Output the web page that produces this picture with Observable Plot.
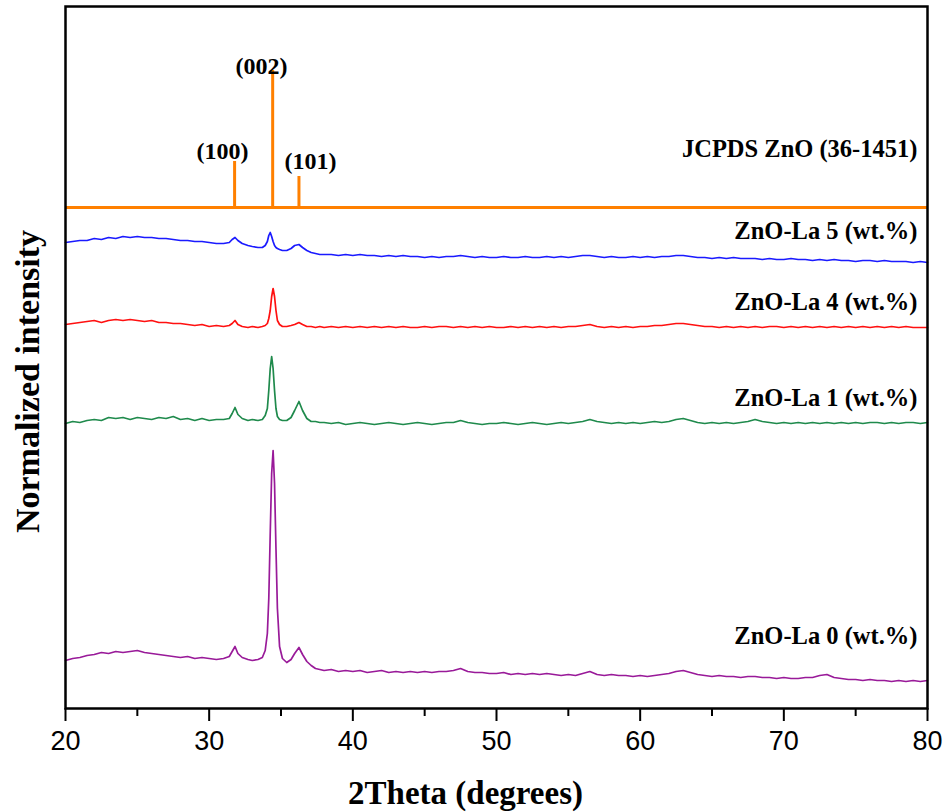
<!DOCTYPE html>
<html><head><meta charset="utf-8">
<script src="https://cdn.jsdelivr.net/npm/d3@7"></script>
<script src="https://cdn.jsdelivr.net/npm/@observablehq/plot@0.6"></script>
<style>body{margin:0;background:#fff}</style>
</head><body><div id="chart"></div>
<script>
// 2Theta sampling (degrees)
const xA = [20,20.5,21,21.5,22,22.5,23,23.5,24,24.5, 25,25.5,26,26.5,27,27.5,28,28.5,29,29.5, 30,30.5];
const xB = [31,31.4,31.6,31.8,32,32.3,32.7,33,33.4,33.7, 33.9,34.05,34.15,34.25,34.35,34.45,34.55,34.65,34.75,34.9, 35.1,35.4,35.7,35.95,36.25,36.5,36.8,37.1,37.4,37.7];
const xC = [38,38.5,39,39.5,40,40.5,41,41.5,42,42.5, 43,43.5,44,44.5,45,45.5,46,46.5,47,47.5,
  48,48.5,49,49.5,50,50.5,51,51.5,52,52.5, 53,53.5,54,54.5,55,55.5,56,56.5,57,57.5,
  58,58.5,59,59.5,60,60.5,61,61.5,62,62.5, 63,63.5,64,64.5,65,65.5,66,66.5,67,67.5,
  68,68.5,69,69.5,70,70.5,71,71.5,72,72.5, 73,73.5,74,74.5,75,75.5,76,76.5,77,77.5,
  78,78.5,79,79.5,80];
const twoTheta = [...xA, ...xB, ...xC];

// Stacked normalized intensities (a.u.)
const la0 = [
  48,50,51,53,54,56,55,57,56,57, 58,56,55,54,53,52,51,52,50,51, 50,49,
  50,52,57,62,55,51,49,48,49,51, 58,75,110,175,235,258,225,160,100,62, 50,46,49,55,61,54,47,43,40,39,
  38,39,37,38,37,38,36,37,38,36, 37,36,37,36,37,36,37,37,38,40,
  37,36,36,35,35,36,34,35,34,35, 34,35,34,33,34,33,35,37,34,33,
  34,33,33,32,33,32,33,34,35,37, 38,36,34,33,32,33,32,32,31,32,
  32,31,31,30,31,30,30,31,31,33, 34,31,30,29,29,28,29,28,28,27,
  28,27,28,27,28];
const la1 = [
  285,287,286,288,289,288,291,290,291,289, 291,290,289,291,290,292,289,290,288,290, 288,289,
  289,290,295,301,294,290,288,289,288,289, 293,300,318,340,352,340,318,300,292,289, 288,288,291,298,307,298,290,287,287,286,
  286,285,286,284,285,286,285,284,285,286, 285,284,285,286,285,284,285,286,286,288,
  286,285,284,285,285,286,285,284,285,286, 285,284,285,286,285,286,287,289,287,286,
  285,286,285,286,285,286,287,286,287,289, 290,288,286,285,286,285,286,285,286,287,
  289,287,286,285,286,285,286,285,286,285, 286,285,286,285,286,285,286,286,285,286,
  285,286,286,285,286];
const la4 = [
  384,385,386,387,388,386,388,389,388,389, 388,387,388,386,386,385,385,384,383,384, 382,383,
  382,383,385,388,384,382,381,382,381,382, 383,385,390,398,412,420,412,398,388,384, 382,382,383,384,386,384,382,382,381,382,
  381,382,381,382,381,382,381,382,381,382, 381,382,381,381,382,381,382,382,381,382,
  381,382,381,382,381,381,382,381,382,381, 382,381,382,381,382,382,383,384,382,381,
  382,381,382,381,382,382,383,383,384,385, 385,384,383,382,382,381,382,381,382,381,
  382,381,382,382,381,382,381,382,381,382, 381,382,381,382,381,382,381,382,381,382,
  381,382,381,381,381];
const la5 = [
  466,467,468,468,470,469,471,470,472,471, 472,471,471,470,470,469,468,468,467,467, 466,465,
  465,466,469,471,468,465,463,462,461,461, 463,467,473,476,472,467,463,461,460,459, 458,458,460,463,464,461,458,456,455,454,
  454,454,453,454,453,454,453,453,452,453, 452,453,452,452,451,452,451,452,452,453,
  452,451,452,451,451,452,451,451,452,451, 451,452,451,452,451,452,453,453,452,451,
  452,451,451,452,451,452,451,452,452,453, 453,452,451,451,450,451,450,451,450,450,
  450,449,450,449,449,450,449,449,448,449, 448,449,448,448,447,448,448,447,448,447,
  447,447,446,447,446];

const seriesNames = ["ZnO-La 0 (wt.%)", "ZnO-La 1 (wt.%)", "ZnO-La 4 (wt.%)", "ZnO-La 5 (wt.%)"];
const seriesValues = [la0, la1, la4, la5];
const seriesColors = ["#991a99", "#1f8a4c", "#ff1010", "#1a1aff"];
const seriesLabelY = [72, 310, 406, 477];

// Reference pattern JCPDS ZnO (36-1451)
const refName = "JCPDS ZnO (36-1451)";
const refBaseline = 501;
const refPeak2Theta = [31.77, 34.42, 36.25];
const refPeakTop = [547, 638, 532];
const hkl = ["(100)", "(002)", "(101)"];
const hklLabelX = [30.93, 33.64, 37.05];
const hklLabelY = [557, 642, 547];
const refLabelY = 559;
const labelRightX = 79.3;

const majorTicks = [20, 30, 40, 50, 60, 70, 80];
const minorTicks = [25, 35, 45, 55, 65, 75];

const orange = "#ff8000";
const serif = "'Liberation Serif', 'Times New Roman', serif";
const sans = "'Liberation Sans', Arial, sans-serif";

const lineRows = seriesValues.flatMap((vals, i) =>
  twoTheta.map((x, j) => ({x, y: vals[j], s: seriesNames[i]})));
const refRows = refPeak2Theta.map((x, i) => ({x, top: refPeakTop[i], hkl: hkl[i], lx: hklLabelX[i], ly: hklLabelY[i]}));
const labelRows = [
  ...seriesNames.map((t, i) => ({t, y: seriesLabelY[i]})),
  {t: refName, y: refLabelY}
];

const chart = Plot.plot({
  width: 947,
  height: 812,
  marginLeft: 65,
  marginRight: 20,
  marginTop: 6,
  marginBottom: 104,
  x: {domain: [20, 80]},
  y: {domain: [0, 702], axis: null},
  color: {domain: seriesNames, range: seriesColors},
  marks: [
    Plot.line(lineRows, {x: "x", y: "y", z: "s", stroke: "s", strokeWidth: 1.7}),
    Plot.ruleY([refBaseline], {stroke: orange, strokeWidth: 3}),
    Plot.ruleX(refRows, {x: "x", y1: refBaseline, y2: "top", stroke: orange, strokeWidth: 3}),
    Plot.text(refRows, {x: "lx", y: "ly", text: "hkl", fontFamily: serif, fontWeight: "bold", fontSize: 24, fill: "black"}),
    Plot.text(labelRows, {x: labelRightX, y: "y", text: "t", textAnchor: "end", fontFamily: serif, fontWeight: "bold", fontSize: 24.5, fill: "black"}),
    Plot.frame({stroke: "black", strokeWidth: 2.5}),
    Plot.axisX({ticks: majorTicks, tickSize: 13, tickPadding: 9, strokeWidth: 2, fontSize: 27, fontFamily: sans, label: null, tickFormat: d => String(d), fill: "black"}),
    Plot.axisX({ticks: minorTicks, tickSize: 8, strokeWidth: 2, text: null, label: null}),
    Plot.text(["2Theta (degrees)"], {frameAnchor: "bottom", lineAnchor: "middle", dy: 85, dx: -31, fontFamily: serif, fontWeight: "bold", fontSize: 33, fill: "black"}),
    Plot.text(["Normalized intensity"], {frameAnchor: "left", textAnchor: "middle", lineAnchor: "middle", dx: -37, dy: 24, rotate: -90, fontFamily: serif, fontWeight: "bold", fontSize: 34, fill: "black"})
  ]
});
document.getElementById("chart").append(chart);
</script>
</body></html>
